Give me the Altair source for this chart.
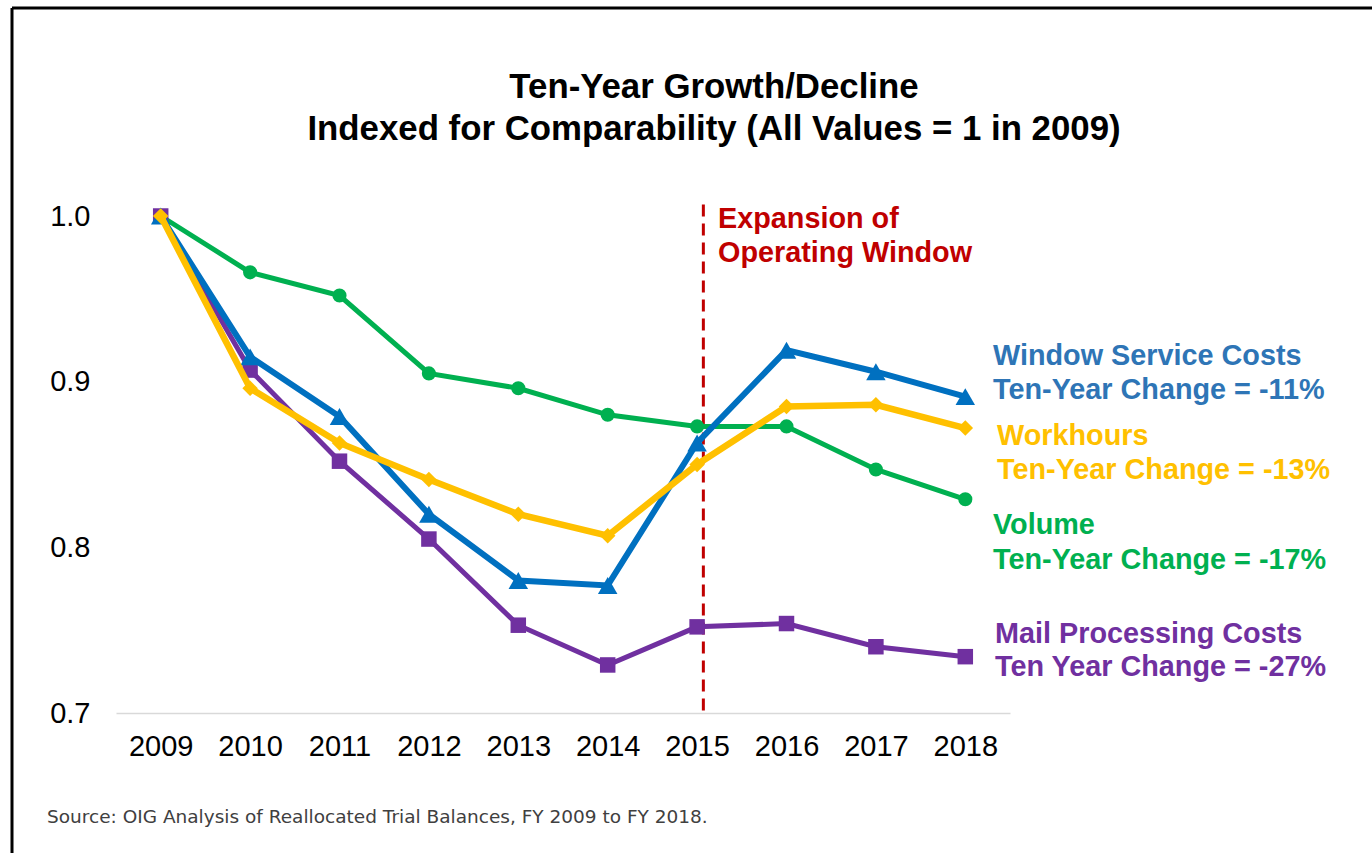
import altair as alt
import pandas as pd

years = [2009, 2010, 2011, 2012, 2013, 2014, 2015, 2016, 2017, 2018]
volume = [1.000, 0.966, 0.952, 0.905, 0.896, 0.880, 0.873, 0.873, 0.847, 0.829]
mail_processing = [1.000, 0.907, 0.852, 0.805, 0.753, 0.729, 0.752, 0.754, 0.740, 0.734]
window_service = [1.000, 0.915, 0.879, 0.820, 0.780, 0.777, 0.863, 0.919, 0.906, 0.891]
workhours = [1.000, 0.896, 0.863, 0.841, 0.820, 0.807, 0.850, 0.885, 0.886, 0.872]

series_names = ["Volume", "Mail Processing Costs", "Window Service Costs", "Workhours"]
series_values = [volume, mail_processing, window_service, workhours]
series_colors = ["#00B050", "#7030A0", "#0070C0", "#FFC000"]
series_shapes = ["circle", "square", "triangle-up", "diamond"]
series_sizes = [200, 240, 380, 240]
series_widths = [5, 5, 6, 6.5]

x_ticks = years
y_ticks = [0.7, 0.8, 0.9, 1.0]

title_lines = ["Ten-Year Growth/Decline", "Indexed for Comparability (All Values = 1 in 2009)"]
event_year = 2015.07
event_lines = ["Expansion of", "Operating Window"]
source_text = "Source: OIG Analysis of Reallocated Trial Balances, FY 2009 to FY 2018."

label_texts = [
    ("Window Service Costs", "#2E75B6", 877, 140),
    ("Ten-Year Change = -11%", "#2E75B6", 877, 174),
    ("Workhours", "#FFC000", 881, 220),
    ("Ten-Year Change = -13%", "#FFC000", 881, 254),
    ("Volume", "#00B050", 877, 309),
    ("Ten-Year Change = -17%", "#00B050", 877, 344),
    ("Mail Processing Costs", "#7030A0", 879, 418),
    ("Ten Year Change = -27%", "#7030A0", 879, 451),
]

rows = []
for name, vals in zip(series_names, series_values):
    for yr, v in zip(years, vals):
        rows.append({"year": yr, "value": v, "series": name})
df = pd.DataFrame(rows)

FONT = "Liberation Sans"
W, H = 894, 497

x_enc = alt.X("year:Q", scale=alt.Scale(domain=[2008.5, 2018.5], nice=False, zero=False),
              axis=alt.Axis(values=x_ticks, format="d", title=None, labelFontSize=29,
                            labelPadding=19, labelFont=FONT, labelColor="#000000",
                            ticks=False, grid=False, domain=True, domainColor="#D9D9D9",
                            domainWidth=1.5))
y_enc = alt.Y("value:Q", scale=alt.Scale(domain=[0.7, 1.0], nice=False, zero=False),
              axis=alt.Axis(values=y_ticks, format=".1f", title=None, labelFontSize=29,
                            labelPadding=26, labelFont=FONT, labelColor="#000000",
                            ticks=False, grid=False, domain=False))

base = alt.Chart(df)
layers = []
for name, col, shp, sz, sw in zip(series_names, series_colors, series_shapes, series_sizes, series_widths):
    sub = base.transform_filter(alt.datum.series == name)
    layers.append(sub.mark_line(color=col, strokeWidth=sw).encode(x=x_enc, y=y_enc))
    layers.append(sub.mark_point(color=col, shape=shp, size=sz, filled=True, opacity=1)
                  .encode(x=x_enc, y=y_enc))

event_rule = alt.Chart(pd.DataFrame({"x": [event_year]})).mark_rule(
    color="#C00000", strokeWidth=3, strokeDash=[12, 7]
).encode(x="x:Q", y=alt.datum(1.007), y2=alt.datum(0.7))

def text_layer(txt, xpx, ypx, size, color, bold=True, align="left", font=FONT):
    return alt.Chart(pd.DataFrame({"t": [txt]})).mark_text(
        align=align, baseline="middle", fontSize=size, font=font,
        fontWeight="bold" if bold else "normal", color=color
    ).encode(text="t:N", x=alt.value(xpx), y=alt.value(ypx))

annots = []
annots.append(text_layer(title_lines[0], 598, -128, 34.8, "#000000", align="center"))
annots.append(text_layer(title_lines[1], 598, -86, 34.8, "#000000", align="center"))
annots.append(text_layer(event_lines[0], 602, 3, 28.8, "#C00000"))
annots.append(text_layer(event_lines[1], 602, 37, 28.8, "#C00000"))
for txt, col, xp, yp in label_texts:
    annots.append(text_layer(txt, xp, yp, 28.8, col))
annots.append(text_layer(source_text, -69, 601, 18.5, "#404040", bold=False, font="DejaVu Sans"))

frame_top = alt.Chart(pd.DataFrame({"a": [0]})).mark_rule(color="#000000", strokeWidth=3).encode(
    x=alt.value(-104), x2=alt.value(1256), y=alt.value(-208))
frame_left = alt.Chart(pd.DataFrame({"a": [0]})).mark_rule(color="#000000", strokeWidth=3).encode(
    x=alt.value(-104), y=alt.value(-208), y2=alt.value(637))

chart = alt.layer(event_rule, *layers, *annots, frame_top, frame_left).properties(
    width=W, height=H,
    autosize=alt.AutoSizeParams(type="none"),
    padding={"left": 116, "top": 216, "right": 362, "bottom": 140},
    background="#FFFFFF",
).configure_view(stroke=None)

chart.save("out.html", embed_options={"renderer": "svg", "actions": False})
